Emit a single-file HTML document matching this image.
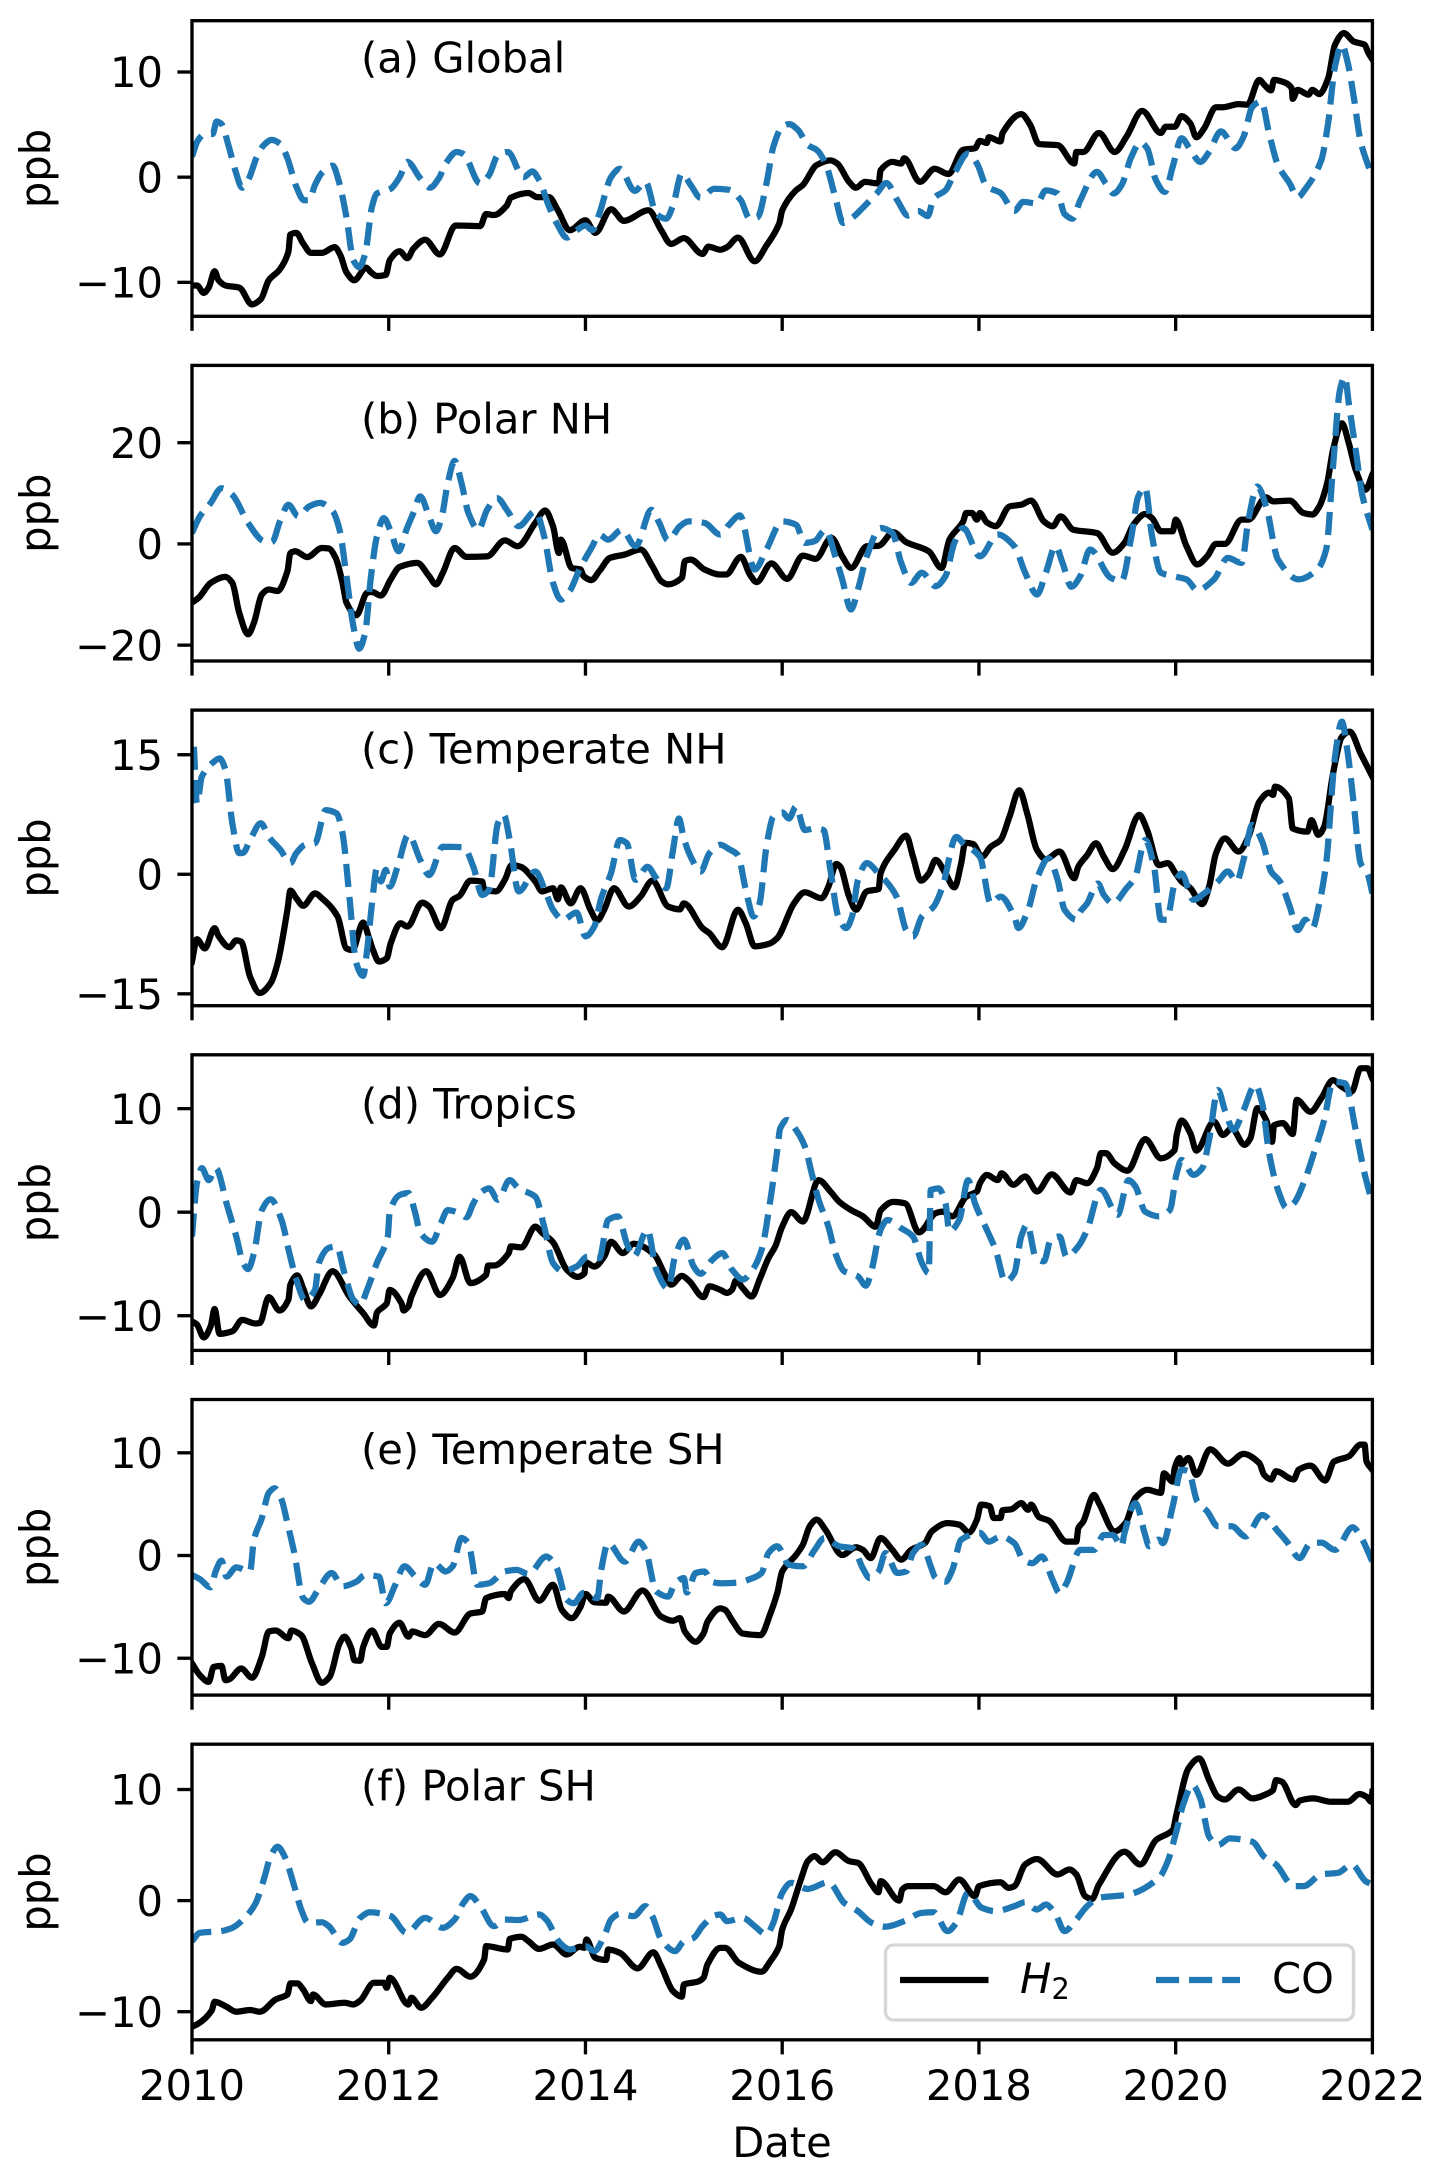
<!DOCTYPE html>
<html lang="en">
<head>
<meta charset="utf-8">
<title>H2 and CO anomalies by region</title>
<style>
html,body{margin:0;padding:0;background:#fff;}
svg{display:block;}
text{font-family:"DejaVu Sans","Liberation Sans",sans-serif;font-size:41.67px;fill:#000;}
</style>
</head>
<body>
<svg id="chart" xmlns="http://www.w3.org/2000/svg" width="1440" height="2177" viewBox="0 0 1440 2177">
<rect x="0" y="0" width="1440" height="2177" fill="#fff"/>
<g id="panels"></g>
<g>
<rect x="885.5" y="1945" width="468" height="75" rx="8" ry="8" fill="#fff" fill-opacity="0.8" stroke="#cccccc" stroke-opacity="0.8" stroke-width="3.33"/>
<line x1="900" y1="1980" x2="988.5" y2="1980" stroke="#000" stroke-width="6.25"/>
<text x="1020" y="1993"><tspan font-style="italic">H</tspan><tspan dy="6" font-size="29px">2</tspan></text>
<line x1="1156" y1="1980" x2="1240" y2="1980" stroke="#1f77b4" stroke-width="6.25" stroke-dasharray="23.1 10"/>
<text x="1272" y="1993">CO</text>
</g>
<text x="782" y="2157" text-anchor="middle">Date</text>
</svg>
<script>
const xTicks=[2010,2012,2014,2016,2018,2020,2022];
const xLimits=[2010,2022];
const panelTitles=["(a) Global","(b) Polar NH","(c) Temperate NH","(d) Tropics","(e) Temperate SH","(f) Polar SH"];
const yTicks=[[-10,0,10],[-20,0,20],[-15,0,15],[-10,0,10],[-10,0,10],[-10,0,10]];
const yLimits=[[-13.23,14.88],[-23.13,35.27],[-16.49,20.6],[-13.35,15.2],[-13.59,15.19],[-12.53,14.08]];

const h2GlobalYears=[2010,2010.05,2010.12,2010.17,2010.23,2010.27,2010.34,2010.48,2010.61,2010.70,2010.78,2010.89,2010.98,2011.00,2011.06,2011.13,2011.21,2011.32,2011.45,2011.51,2011.57,2011.65,2011.77,2011.82,2011.88,2011.97,2012.01,2012.11,2012.19,2012.25,2012.37,2012.52,2012.68,2012.93,2012.99,2013.07,2013.20,2013.24,2013.42,2013.51,2013.63,2013.72,2013.84,2014.00,2014.10,2014.26,2014.39,2014.64,2014.77,2014.87,2015.00,2015.19,2015.25,2015.37,2015.44,2015.55,2015.72,2015.84,2015.97,2016.00,2016.14,2016.21,2016.35,2016.49,2016.56,2016.68,2016.75,2016.84,2016.98,2017.00,2017.12,2017.21,2017.24,2017.40,2017.55,2017.69,2017.84,2017.96,2018.01,2018.08,2018.10,2018.22,2018.24,2018.43,2018.52,2018.61,2018.80,2018.97,2018.99,2019.06,2019.22,2019.38,2019.50,2019.66,2019.85,2019.90,2019.99,2020.06,2020.15,2020.21,2020.29,2020.41,2020.48,2020.64,2020.73,2020.85,2020.90,2020.97,2021.00,2021.11,2021.18,2021.19,2021.24,2021.35,2021.39,2021.46,2021.55,2021.62,2021.71,2021.81,2021.92,2021.96,2022.00];
const h2GlobalPpb=[-10.3,-10.3,-11,-10.5,-8.95,-9.8,-10.3,-10.5,-12.1,-11.6,-9.8,-8.8,-7.1,-5.45,-5.3,-6.3,-7.2,-7.2,-6.65,-7.45,-9.05,-9.8,-8.6,-9.05,-9.4,-9.3,-7.9,-7.05,-7.7,-6.8,-5.95,-7.35,-4.6,-4.65,-3.5,-3.6,-2.7,-1.95,-1.5,-1.9,-1.9,-3.15,-5.05,-4.1,-5.3,-3.05,-4.15,-3.15,-5.05,-6.35,-5.8,-7.3,-6.6,-6.9,-6.65,-5.75,-8,-6.5,-4.4,-3.15,-1.25,-0.75,1.15,1.6,1.3,-0.45,-1,-0.45,-0.6,0.65,1.45,1.3,1.8,-0.45,0.8,0.3,2.6,2.75,3.45,3.25,3.8,3.4,4.2,6,5,3.15,3.05,1.3,2.4,2.4,4.2,2.4,3.85,6.3,4.2,4.8,4.8,5.8,5.1,3.8,4.65,6.65,6.65,6.95,6.9,9.25,8.8,8.25,9.25,9,8.45,7.45,8.3,7.85,8.3,7.9,9.4,12.6,13.7,12.9,12.6,11.8,11.2];
const coGlobalYears=[2010,2010.06,2010.13,2010.21,2010.25,2010.30,2010.37,2010.44,2010.51,2010.57,2010.66,2010.73,2010.81,2010.90,2010.97,2011.06,2011.14,2011.19,2011.25,2011.32,2011.43,2011.49,2011.57,2011.64,2011.70,2011.76,2011.83,2011.88,2012.02,2012.11,2012.19,2012.32,2012.42,2012.51,2012.58,2012.69,2012.76,2012.93,2013.02,2013.11,2013.21,2013.37,2013.46,2013.53,2013.63,2013.72,2013.81,2013.91,2014.00,2014.07,2014.14,2014.26,2014.35,2014.50,2014.61,2014.72,2014.82,2014.89,2014.98,2015.07,2015.17,2015.31,2015.46,2015.58,2015.67,2015.75,2015.84,2015.91,2016.00,2016.07,2016.16,2016.26,2016.35,2016.44,2016.54,2016.62,2016.72,2016.82,2016.96,2017.06,2017.17,2017.28,2017.38,2017.48,2017.54,2017.66,2017.75,2017.89,2017.98,2018.08,2018.22,2018.36,2018.45,2018.59,2018.68,2018.80,2018.87,2018.95,2019.03,2019.20,2019.29,2019.37,2019.45,2019.55,2019.64,2019.71,2019.80,2019.89,2019.97,2020.06,2020.15,2020.25,2020.34,2020.46,2020.61,2020.69,2020.78,2020.87,2020.95,2021.04,2021.16,2021.24,2021.32,2021.48,2021.55,2021.62,2021.69,2021.75,2021.81,2021.88,2021.95,2022.00];
const coGlobalPpb=[1.95,3.5,4.1,4.1,5.3,5.05,3.05,0.65,-1,-0.3,1.95,3.05,3.55,3.15,1.8,-0.9,-2.2,-2.2,-0.75,0.4,1.1,-0.3,-3.8,-7.9,-8.55,-7.3,-2.8,-1.55,-1.1,0,1.45,-0.1,-1,-0.1,1.3,2.4,2.2,-0.6,0.2,2.1,2.4,0,0.55,-0.3,-2.8,-4.6,-5.75,-5.05,-4.6,-5.05,-3.5,0,0.8,-1.3,-0.45,-3.5,-3.95,-2.7,0.35,-0.75,-1.95,-1.1,-1.2,-2.2,-3.95,-3.8,-0.6,2.9,4.8,5.05,4.5,3.05,2.6,1.3,-1.9,-4.35,-3.8,-2.9,-1.55,-0.55,-2.2,-3.65,-3.2,-3.7,-2,-1.25,0.35,2.25,1.3,-0.9,-1.5,-3.2,-2.35,-2.5,-1.25,-1.55,-3.5,-3.95,-2.2,0.5,-0.6,-1.55,-0.75,1.95,3.3,2.75,-0.3,-1.4,1,3.7,2.6,1.45,2.4,4.35,2.75,3.85,6.7,7.2,4.15,1.15,-0.6,-1.9,-1.1,1.6,5.15,10.55,12.6,10.85,7.65,3.4,1.3,0];

const h2PolarNhYears=[2010,2010.07,2010.19,2010.34,2010.41,2010.48,2010.57,2010.63,2010.71,2010.78,2010.87,2010.97,2011.00,2011.05,2011.17,2011.32,2011.39,2011.46,2011.53,2011.57,2011.67,2011.78,2011.83,2011.92,2012.02,2012.11,2012.29,2012.41,2012.48,2012.55,2012.67,2012.79,2013.00,2013.18,2013.31,2013.49,2013.59,2013.67,2013.73,2013.75,2013.86,2013.95,2013.98,2014.06,2014.14,2014.25,2014.40,2014.56,2014.68,2014.77,2014.84,2014.98,2015.01,2015.07,2015.21,2015.37,2015.43,2015.58,2015.67,2015.74,2015.89,2016.05,2016.21,2016.34,2016.50,2016.61,2016.70,2016.86,2016.98,2017.13,2017.26,2017.49,2017.62,2017.70,2017.84,2017.87,2017.93,2017.98,2018.01,2018.08,2018.17,2018.31,2018.43,2018.53,2018.66,2018.75,2018.83,2018.96,2019.20,2019.36,2019.48,2019.57,2019.69,2019.76,2019.85,2019.97,2020.00,2020.11,2020.22,2020.32,2020.41,2020.50,2020.67,2020.74,2020.92,2020.99,2021.16,2021.30,2021.39,2021.46,2021.54,2021.60,2021.69,2021.76,2021.83,2021.93,2022.00];
const h2PolarNhPpb=[-11.6,-10.6,-7.7,-6.5,-7.7,-13.6,-17.85,-15.55,-10,-9,-9.3,-5.4,-1.8,-1.45,-2.6,-0.8,-0.9,-2.75,-7.7,-11.6,-14.1,-9.65,-9.5,-10.2,-7,-4.55,-3.75,-6.35,-8,-5.7,-0.8,-2.55,-2.45,0.7,-0.45,4.15,6.6,3.5,-1.8,0.85,-4.75,-5.05,-6.35,-7.15,-5.4,-2.75,-2.1,-1.1,-4.4,-7.35,-8,-6.7,-3.4,-3.1,-5.05,-6.05,-6.05,-2.55,-6,-7.55,-3.85,-6.9,-2.3,-2.95,1.2,-2.45,-4.75,-0.45,-0.35,2.3,0.35,-1.45,-4.75,0.85,4.45,6.1,6.1,4.8,6.1,4.25,3.5,7.4,7.75,8.55,4.45,3.5,5.45,2.8,2.15,-1.75,0.2,3.8,5.9,5.1,2.5,2.5,4.8,-0.45,-4.05,-2.45,0,0,4.8,4.8,9.2,8.4,8.55,6.1,5.8,7.4,12,18.6,23.85,19.9,14.65,10.7,13.7];
const coPolarNhYears=[2010,2010.08,2010.19,2010.30,2010.41,2010.57,2010.73,2010.81,2010.90,2010.98,2011.08,2011.19,2011.30,2011.43,2011.50,2011.57,2011.64,2011.70,2011.76,2011.82,2011.88,2011.95,2012.02,2012.10,2012.18,2012.25,2012.32,2012.41,2012.48,2012.54,2012.60,2012.67,2012.74,2012.81,2012.91,2013.00,2013.10,2013.21,2013.32,2013.49,2013.58,2013.67,2013.75,2013.84,2013.94,2014.07,2014.14,2014.23,2014.37,2014.51,2014.67,2014.75,2014.84,2014.96,2015.05,2015.21,2015.37,2015.46,2015.57,2015.72,2015.84,2016.00,2016.14,2016.23,2016.33,2016.44,2016.54,2016.61,2016.70,2016.77,2016.86,2017.00,2017.12,2017.21,2017.31,2017.42,2017.56,2017.66,2017.75,2017.84,2018.01,2018.19,2018.36,2018.47,2018.59,2018.68,2018.78,2018.85,2018.94,2019.03,2019.13,2019.34,2019.45,2019.55,2019.62,2019.69,2019.76,2019.85,2019.97,2020.11,2020.22,2020.39,2020.53,2020.67,2020.74,2020.83,2020.92,2021.04,2021.25,2021.44,2021.53,2021.60,2021.67,2021.72,2021.76,2021.83,2021.90,2022.00];
const coPolarNhPpb=[2.15,5.45,8.1,11,9.7,4.15,0.55,0.35,4.8,7.75,5.45,7.4,8.1,6.45,2.8,-6.35,-16.2,-20.7,-17.55,-6.35,1.5,5.1,2.5,-1.45,2.8,6.1,9.4,5.45,2.5,5.45,12,16.4,12,6.1,2.8,6.75,9.05,6.45,3.5,6.45,1.5,-7.7,-11,-9.3,-5,-0.45,1.85,0.85,2.8,-0.45,6.75,4.15,0.7,3.5,4.45,4.15,1.85,3.8,5.65,-5.05,-1.1,4.45,3.8,0.2,0.55,2.8,-2.45,-7,-12.95,-9,-2.45,3.15,2.15,-3.75,-7.7,-5.7,-8.35,-6.35,0.2,3.15,-2.45,1.85,-0.45,-5.7,-10,-5.7,-0.45,-3.75,-8.45,-6.35,-1.1,-6.7,-7.35,1.5,9.4,11.15,1.5,-5.7,-6.35,-7,-9.15,-7,-2.75,-3.75,4.8,11.35,7.4,-3.1,-7,-5.05,-1.1,15.3,30.4,33,27.8,18.6,9.4,2.8];

const h2TempNhYears=[2010,2010.05,2010.13,2010.23,2010.27,2010.38,2010.45,2010.50,2010.59,2010.69,2010.80,2010.87,2010.97,2011.00,2011.06,2011.13,2011.25,2011.32,2011.48,2011.57,2011.63,2011.74,2011.80,2011.84,2011.90,2011.98,2012.02,2012.12,2012.19,2012.34,2012.41,2012.53,2012.65,2012.72,2012.83,2012.95,2012.97,2013.09,2013.18,2013.25,2013.34,2013.49,2013.56,2013.67,2013.72,2013.75,2013.85,2013.95,2014.05,2014.12,2014.19,2014.29,2014.44,2014.56,2014.68,2014.84,2014.96,2015.00,2015.19,2015.26,2015.39,2015.55,2015.63,2015.72,2015.86,2015.95,2016.12,2016.23,2016.40,2016.47,2016.55,2016.59,2016.68,2016.75,2016.86,2016.98,2017.00,2017.14,2017.26,2017.33,2017.41,2017.49,2017.56,2017.66,2017.75,2017.82,2017.86,2017.94,2018.03,2018.12,2018.22,2018.31,2018.41,2018.49,2018.59,2018.68,2018.82,2018.97,2019.01,2019.10,2019.19,2019.27,2019.36,2019.48,2019.63,2019.71,2019.83,2019.92,2020.00,2020.06,2020.15,2020.27,2020.34,2020.41,2020.50,2020.64,2020.74,2020.85,2020.95,2020.99,2021.01,2021.15,2021.19,2021.34,2021.38,2021.45,2021.51,2021.60,2021.69,2021.77,2021.88,2022.00];
const h2TempNhPpb=[-10.95,-8.15,-9.3,-6.75,-7.75,-9.15,-8.3,-8.45,-12.85,-14.9,-13.65,-11.15,-4.45,-2.05,-3,-3.95,-2.4,-3,-5.3,-9.3,-9.5,-6.05,-8,-9.5,-10.95,-10.55,-8.65,-6.15,-6.55,-3.55,-4.05,-6.75,-3.2,-2.7,-0.8,-0.9,-1.95,-2.15,-0.7,1.15,0.95,-0.9,-2.15,-1.75,-3.15,-1.65,-3.65,-1.75,-4.45,-5.8,-4.45,-1.75,-4.05,-2.8,-0.8,-4.05,-4.4,-3.65,-6.75,-7.4,-9.15,-4.45,-6.15,-9.05,-8.75,-8,-3.65,-2.25,-3,-1.55,1.3,0.95,-2.8,-4.45,-2.15,-1.85,0.1,3.05,4.85,2.2,-0.8,0.1,1.8,0.1,-1.65,1.4,3.95,3.8,2.2,3.45,4.3,7.2,10.55,7.65,3.05,1.9,2.85,-0.5,0.95,2.4,3.9,2.2,0.65,3.05,7.45,5.55,1.15,1.4,0.1,-0.9,-1.75,-3.75,-1.55,2.65,4.5,2.85,4.7,9.1,10.25,9.95,11,9.55,5.75,5.35,6.8,4.95,6,12.65,17.25,17.9,15.15,12.25];
const coTempNhYears=[2010.02,2010.05,2010.10,2010.22,2010.28,2010.34,2010.41,2010.48,2010.52,2010.59,2010.70,2010.78,2010.90,2011.00,2011.06,2011.15,2011.25,2011.36,2011.47,2011.53,2011.60,2011.67,2011.74,2011.78,2011.83,2011.88,2011.92,2011.97,2012.01,2012.09,2012.20,2012.32,2012.41,2012.55,2012.76,2012.86,2012.95,2013.02,2013.11,2013.17,2013.23,2013.32,2013.49,2013.60,2013.67,2013.77,2013.91,2014.00,2014.09,2014.16,2014.26,2014.35,2014.42,2014.51,2014.63,2014.72,2014.82,2014.89,2014.95,2015.00,2015.07,2015.17,2015.26,2015.37,2015.46,2015.55,2015.63,2015.71,2015.77,2015.84,2015.91,2016.00,2016.07,2016.14,2016.23,2016.33,2016.42,2016.49,2016.57,2016.65,2016.71,2016.77,2016.86,2016.98,2017.10,2017.17,2017.26,2017.33,2017.42,2017.54,2017.63,2017.77,2017.84,2018.01,2018.12,2018.22,2018.36,2018.40,2018.50,2018.59,2018.71,2018.80,2018.87,2018.99,2019.03,2019.10,2019.21,2019.27,2019.36,2019.50,2019.59,2019.69,2019.78,2019.85,2019.91,2019.99,2020.06,2020.18,2020.29,2020.43,2020.53,2020.62,2020.69,2020.78,2020.88,2020.97,2021.06,2021.16,2021.24,2021.32,2021.39,2021.46,2021.53,2021.62,2021.69,2021.74,2021.81,2021.88,2021.95,2022.00];
const coTempNhPpb=[16,8.9,12.25,14.1,14.55,13.1,6.4,2.65,2.7,4.3,6.4,4.7,3.05,1.4,2.65,3.7,3.9,8.05,7.65,5.15,-2.8,-11.15,-12.75,-9.5,-3.65,0.75,-0.9,0.55,-1.55,0.95,4.95,1.8,-0.1,3.45,3.4,0.95,-2.6,-1.95,6.4,7.45,4.3,-2.15,0.35,-2.4,-4.45,-5.7,-4.8,-7.8,-6.55,-3,0.15,4.3,3.9,-0.7,0.95,-0.5,-1.75,3.05,7,4.5,2.2,0.35,2.65,3.7,3.15,2.4,-1.95,-5.3,-3.65,3.45,7.25,7.75,7,8.5,5.55,5.75,5.55,0.55,-5.3,-6.75,-5.3,-0.7,1.4,0.1,-1.55,-3,-7,-7.8,-5.3,-4.05,-1.55,4.7,3.9,2.2,-3.65,-2.8,-5.3,-6.75,-4.45,-0.5,2,-0.7,-4.45,-5.7,-4.7,-3.65,-1.15,-2.6,-3.65,-1.75,-0.3,4.3,0.95,-5.7,-5.7,-1.15,0.1,-3.2,-2.4,-0.9,0.35,-0.9,1.8,6.2,4.1,0.35,-0.9,-4.05,-7,-5.7,-6.75,-3.65,1.4,14.75,19.15,16,8.9,1.4,0.1,-2.4];

const h2TropicsYears=[2010,2010.05,2010.12,2010.19,2010.23,2010.28,2010.41,2010.51,2010.64,2010.69,2010.78,2010.89,2010.98,2011.00,2011.07,2011.13,2011.21,2011.29,2011.43,2011.60,2011.74,2011.85,2011.88,2011.98,2012.01,2012.13,2012.15,2012.20,2012.23,2012.38,2012.52,2012.65,2012.72,2012.83,2012.99,2013.01,2013.07,2013.22,2013.24,2013.35,2013.49,2013.56,2013.67,2013.81,2013.92,2013.99,2014.00,2014.09,2014.19,2014.26,2014.38,2014.49,2014.70,2014.80,2014.87,2014.98,2015.05,2015.20,2015.26,2015.37,2015.44,2015.49,2015.53,2015.60,2015.69,2015.77,2015.86,2015.93,2016.00,2016.09,2016.21,2016.37,2016.49,2016.58,2016.70,2016.82,2016.95,2017.00,2017.13,2017.25,2017.39,2017.56,2017.63,2017.73,2017.87,2017.98,2018.01,2018.08,2018.19,2018.23,2018.35,2018.47,2018.59,2018.74,2018.93,2018.99,2019.10,2019.20,2019.24,2019.29,2019.38,2019.51,2019.69,2019.85,2019.99,2020.01,2020.06,2020.15,2020.21,2020.39,2020.48,2020.57,2020.70,2020.76,2020.83,2020.92,2020.98,2021.00,2021.09,2021.19,2021.23,2021.37,2021.48,2021.60,2021.69,2021.79,2021.88,2021.95,2022.00];
const h2TropicsPpb=[-10.55,-10.85,-12.1,-11,-9.35,-11.75,-11.5,-10.4,-10.75,-10.7,-8.2,-9.5,-8.45,-7,-6.1,-7.35,-9.1,-8,-5.7,-8.15,-9.75,-10.95,-9.7,-8.8,-7.5,-8.8,-9.5,-9.1,-8.15,-5.7,-8,-6.35,-4.3,-6.85,-6.05,-5.15,-5.15,-3.95,-3.3,-3.4,-1.4,-2,-2.9,-5.55,-6.25,-5.9,-4.85,-5.25,-4.3,-2.85,-3.95,-3.05,-4.1,-5.9,-7,-6.15,-6.6,-8.2,-7.15,-7.5,-7.8,-7.5,-6.6,-7.35,-8.15,-6.5,-4.45,-3.3,-1.4,0,-0.9,3.1,2,1,0.2,-0.4,-1.4,0.15,1,0.85,-1.95,-0.1,0.05,-0.4,1.5,2,2.8,3.6,3.1,3.75,2.65,3.45,2,3.65,1.9,3.1,2.8,4.25,5.7,5.7,4.7,4,7.05,5.2,6,7.45,8.85,7.6,5.95,8.75,7.45,8.1,6.5,7.15,10.05,8.9,6.8,8.4,8.6,7.55,10.85,9.7,11,12.75,12.1,11.65,13.9,13.9,12.9];
const coTropicsYears=[2010,2010.05,2010.10,2010.17,2010.24,2010.36,2010.45,2010.52,2010.57,2010.63,2010.71,2010.80,2010.91,2010.99,2011.06,2011.15,2011.25,2011.29,2011.39,2011.47,2011.55,2011.64,2011.71,2011.78,2011.88,2011.99,2012.01,2012.11,2012.20,2012.27,2012.32,2012.44,2012.53,2012.60,2012.72,2012.79,2012.86,2012.93,2013.02,2013.11,2013.23,2013.32,2013.49,2013.58,2013.67,2013.77,2013.91,2014.02,2014.14,2014.23,2014.33,2014.42,2014.49,2014.63,2014.72,2014.84,2014.91,2015.00,2015.10,2015.17,2015.29,2015.39,2015.49,2015.60,2015.70,2015.79,2015.88,2015.95,2015.98,2016.05,2016.14,2016.23,2016.30,2016.37,2016.47,2016.54,2016.63,2016.77,2016.85,2016.91,2017.00,2017.07,2017.21,2017.33,2017.42,2017.49,2017.51,2017.59,2017.66,2017.70,2017.80,2017.89,2017.96,2018.08,2018.17,2018.27,2018.36,2018.43,2018.49,2018.58,2018.66,2018.73,2018.82,2018.89,2019.01,2019.10,2019.24,2019.41,2019.52,2019.59,2019.69,2019.83,2019.94,2020.01,2020.06,2020.18,2020.27,2020.34,2020.43,2020.50,2020.59,2020.69,2020.81,2020.88,2020.95,2021.04,2021.13,2021.20,2021.32,2021.41,2021.51,2021.60,2021.72,2021.83,2021.92,2022.00];
const coTropicsPpb=[-2.35,2.8,4.25,3.1,4.25,0.55,-2.35,-4.9,-5.5,-3.95,0.2,1.25,-0.75,-3.95,-6.5,-8.5,-7.5,-4.9,-3.45,-3.3,-5.9,-8.45,-8.95,-7.5,-4.9,-2.35,0.05,1.65,1.85,-0.1,-2,-2.85,-1.05,0.2,-0.1,-0.5,0.85,1.85,2.3,1.2,3.1,2.3,1.5,-1.4,-4.9,-5.7,-5.25,-4.3,-4.45,-0.75,-0.4,-3,-4.3,-1.7,-5.55,-7.35,-4.3,-2.65,-5.25,-5.95,-4.6,-3.95,-5.55,-6.5,-5.55,-3.65,1.2,6,8.1,8.9,7.95,6.35,3.75,1.2,-1.4,-3.95,-5.7,-6.2,-7.1,-5.55,-1.7,-0.75,-1.55,-2.35,-4.9,-5.9,2.15,2.3,0.85,-1.85,-0.75,3.1,0.85,-1.7,-3.65,-6.7,-5.9,-2.35,-1.2,-4.45,-4.75,-2.65,-2.35,-4.3,-3.3,-1.7,2.15,-0.25,3.1,2.5,0.05,-0.4,0.2,3.75,5.05,3.6,4.25,7,11.8,9.85,7.95,9.85,12.3,10.5,5.7,2.15,0.4,0.85,3.3,5.85,8.9,12.6,12.45,7.95,3.75,0.85];

const h2TempShYears=[2010,2010.08,2010.17,2010.22,2010.30,2010.34,2010.38,2010.50,2010.61,2010.71,2010.78,2010.85,2010.98,2011.01,2011.11,2011.22,2011.32,2011.40,2011.50,2011.55,2011.62,2011.65,2011.71,2011.74,2011.83,2011.93,2011.98,2012.01,2012.11,2012.20,2012.24,2012.37,2012.51,2012.67,2012.83,2012.95,2012.99,2013.18,2013.22,2013.24,2013.38,2013.53,2013.67,2013.76,2013.86,2013.95,2014.00,2014.09,2014.21,2014.23,2014.39,2014.58,2014.77,2014.89,2014.96,2015.01,2015.12,2015.20,2015.24,2015.37,2015.42,2015.49,2015.60,2015.78,2015.88,2015.95,2016.00,2016.14,2016.21,2016.28,2016.35,2016.44,2016.61,2016.75,2016.82,2016.90,2017.00,2017.12,2017.21,2017.31,2017.45,2017.52,2017.68,2017.80,2017.90,2017.98,2018.02,2018.11,2018.15,2018.22,2018.24,2018.33,2018.43,2018.50,2018.53,2018.61,2018.71,2018.89,2018.99,2019.01,2019.06,2019.17,2019.22,2019.38,2019.49,2019.59,2019.71,2019.85,2019.88,2019.97,2019.99,2020.04,2020.06,2020.13,2020.21,2020.35,2020.53,2020.69,2020.85,2020.90,2020.97,2021.02,2021.20,2021.25,2021.37,2021.52,2021.61,2021.76,2021.88,2021.92,2021.94,2022.00];
const h2TempShPpb=[-10.5,-11.65,-12.3,-10.85,-10.75,-12.15,-12.05,-11,-11.9,-9.85,-7.4,-7.3,-8.05,-7.3,-7.75,-10.5,-12.4,-11.8,-8.55,-7.9,-9.05,-10.2,-10.25,-8.9,-7.3,-8.9,-8.9,-7.6,-6.55,-7.9,-7.4,-7.75,-6.65,-7.5,-5.65,-5.45,-4.15,-3.75,-4.15,-3.5,-2.3,-4.4,-2.85,-5.3,-6.1,-5,-3.75,-4.55,-4.6,-4,-5.45,-3.4,-5.95,-6.35,-6.1,-7.4,-8.4,-7.6,-6.45,-5.15,-5.3,-6.3,-7.6,-7.75,-5.65,-3.65,-1.55,0.05,1.05,2.85,3.5,2.5,0.05,0.8,0.55,-0.25,1.7,0.55,-0.4,0.55,1.2,2.35,3.15,3,2.25,3.5,4.95,4.8,3.65,3.65,4.4,4.5,5.1,4.45,4.95,3.75,3.4,1.35,1.35,2.65,3.3,5.9,5.1,2.35,3.15,5.6,6.4,6.1,8,7.2,8.5,9.5,8.85,9.5,7.85,10.35,8.95,9.9,9,7.85,7.4,8.2,7.4,8.35,8.75,7.3,9.15,9.65,10.8,10.8,9.15,8.35];
const coTempShYears=[2010,2010.08,2010.19,2010.24,2010.30,2010.35,2010.45,2010.59,2010.63,2010.71,2010.78,2010.84,2010.91,2010.97,2011.04,2011.13,2011.19,2011.29,2011.42,2011.53,2011.67,2011.76,2011.90,2011.97,2012.06,2012.16,2012.27,2012.37,2012.46,2012.58,2012.65,2012.74,2012.81,2012.90,2013.02,2013.18,2013.30,2013.42,2013.60,2013.70,2013.81,2013.88,2013.98,2014.12,2014.16,2014.23,2014.40,2014.54,2014.61,2014.72,2014.84,2014.91,2015.00,2015.03,2015.12,2015.21,2015.28,2015.37,2015.53,2015.70,2015.79,2015.86,2015.95,2016.07,2016.21,2016.33,2016.43,2016.58,2016.72,2016.82,2016.89,2016.98,2017.05,2017.17,2017.26,2017.33,2017.42,2017.51,2017.56,2017.66,2017.73,2017.82,2018.01,2018.10,2018.22,2018.36,2018.45,2018.54,2018.64,2018.75,2018.82,2018.89,2019.03,2019.17,2019.27,2019.36,2019.45,2019.48,2019.59,2019.69,2019.73,2019.83,2019.87,2019.97,2020.06,2020.13,2020.22,2020.32,2020.43,2020.57,2020.71,2020.88,2021.04,2021.13,2021.26,2021.37,2021.48,2021.62,2021.80,2021.88,2022.00];
const coTempShPpb=[-1.9,-2.3,-3.1,-1.55,-0.5,-2.05,-1.15,-1.55,1.55,3.65,6.1,6.55,5.45,3.15,0.25,-4.15,-4.5,-3.2,-1.7,-3,-2.55,-1.9,-2.05,-4.65,-3,-1.05,-2.05,-2.85,-0.75,-1.55,-1.05,1.7,1.2,-2.85,-2.7,-1.55,-1.4,-1.8,-0.1,-1.05,-4.3,-4.65,-3.65,-4.15,-1.4,1.2,-0.6,1.35,0.55,-3.5,-4,-2.7,-2.2,-3.6,-1.7,-1.55,-2.55,-2.7,-2.65,-2.2,-1.7,0.25,0.9,-0.9,-1.05,0.55,1.7,0.9,0.7,-1.25,-2.2,-1.55,0.25,-1.7,-1.55,0.25,1.05,-1.05,-2.2,-2.55,-1.4,1.55,2.2,1.35,1.85,1.2,-0.4,-0.75,-0.1,-2.4,-3.65,-2.7,0.55,0.55,2,2,0.9,2.2,5.1,2,0.9,1.55,1.2,4.8,8.35,8.2,5.25,4.3,2.85,2.85,1.85,3.95,2.35,1.35,-0.25,1.2,1.25,0.55,2.75,1.85,-0.6];

const h2PolarShYears=[2010,2010.06,2010.20,2010.23,2010.34,2010.45,2010.59,2010.69,2010.85,2010.97,2011.00,2011.07,2011.13,2011.21,2011.23,2011.36,2011.55,2011.64,2011.71,2011.85,2011.95,2011.98,2012.01,2012.20,2012.23,2012.33,2012.44,2012.60,2012.69,2012.83,2012.97,2012.99,2013.21,2013.23,2013.35,2013.42,2013.53,2013.67,2013.81,2013.94,2013.99,2014.01,2014.10,2014.21,2014.23,2014.35,2014.53,2014.69,2014.77,2014.89,2014.98,2015.00,2015.14,2015.20,2015.24,2015.37,2015.42,2015.56,2015.79,2015.88,2015.97,2016.00,2016.09,2016.19,2016.26,2016.33,2016.41,2016.54,2016.68,2016.77,2016.91,2016.98,2017.00,2017.19,2017.22,2017.28,2017.54,2017.66,2017.80,2017.96,2018.00,2018.22,2018.30,2018.36,2018.47,2018.59,2018.80,2018.92,2018.99,2019.08,2019.15,2019.22,2019.48,2019.64,2019.80,2019.97,2020.01,2020.13,2020.24,2020.34,2020.43,2020.50,2020.64,2020.78,2020.95,2020.99,2021.02,2021.08,2021.22,2021.26,2021.40,2021.58,2021.75,2021.87,2021.94,2021.99,2022.00];
const h2PolarShPpb=[-11.35,-11.1,-9.9,-9.1,-9.5,-10,-9.85,-10,-8.9,-8.45,-7.45,-7.45,-8,-9.05,-8.45,-9.35,-9.2,-9.35,-9,-7.4,-7.4,-7.85,-6.95,-9.35,-8.75,-9.65,-8.75,-6.95,-6.15,-6.85,-5.3,-4.1,-4.4,-3.45,-3.25,-3.65,-4.35,-3.95,-4.85,-4.15,-4.25,-3.5,-5.15,-5.35,-4.4,-4.7,-6.1,-4.65,-5.9,-8.15,-8.65,-7.55,-7.3,-6.95,-5.75,-4.25,-4.25,-5.6,-6.4,-5.45,-4.1,-2.6,-0.8,1.9,3.55,4,3.45,4.35,3.55,3.4,1.45,0.75,1.75,0,1,1.3,1.3,0.75,1.9,0.4,1.3,1.65,1.15,1.3,3.25,3.75,2.35,2.8,2.35,0.4,0.15,1.45,4.4,3.25,5.45,6.35,7.85,11.9,12.8,10.85,9.35,9.1,10,9.2,9.7,9.95,10.85,10.7,8.6,9,9.2,8.9,8.9,9.6,9.35,8.9,9.8];
const coPolarShYears=[2010,2010.08,2010.29,2010.41,2010.52,2010.64,2010.73,2010.80,2010.87,2010.94,2011.04,2011.11,2011.18,2011.32,2011.39,2011.53,2011.60,2011.71,2011.81,2012.02,2012.18,2012.37,2012.55,2012.67,2012.76,2012.83,2012.93,2013.07,2013.18,2013.32,2013.53,2013.60,2013.74,2013.84,2014.00,2014.09,2014.19,2014.26,2014.35,2014.49,2014.61,2014.68,2014.77,2014.91,2015.00,2015.10,2015.19,2015.31,2015.37,2015.44,2015.60,2015.72,2015.84,2015.91,2016.00,2016.09,2016.26,2016.47,2016.63,2016.77,2016.91,2017.05,2017.24,2017.42,2017.54,2017.68,2017.77,2017.89,2018.03,2018.17,2018.36,2018.47,2018.59,2018.68,2018.78,2018.87,2018.99,2019.10,2019.22,2019.52,2019.83,2019.92,2020.01,2020.08,2020.17,2020.25,2020.34,2020.43,2020.55,2020.78,2020.90,2021.02,2021.20,2021.30,2021.48,2021.65,2021.79,2021.93,2022.00];
const coPolarShPpb=[-3.65,-2.9,-2.75,-2.45,-1.7,-0.35,1.9,4,4.85,4,1.3,-0.8,-2,-1.95,-2.3,-3.8,-3.5,-1.55,-1.05,-1.4,-2.9,-1.55,-2.45,-1.7,-0.2,0.4,-0.5,-2.3,-1.7,-1.75,-1.25,-1.7,-3.8,-4.4,-4.1,-4.55,-3.2,-1.7,-1.2,-1.4,-0.5,-1.4,-3.5,-4.55,-3.65,-3.35,-2.3,-1.35,-1.25,-1.85,-1.55,-2.3,-3.05,-2,0.7,1.6,1.05,1.65,-0.2,-0.95,-2,-2.35,-1.85,-1.1,-1.05,-2.75,-2,0.7,-0.65,-0.95,-0.5,-0.15,-0.8,-0.35,-1.25,-2.75,-1.7,-0.5,0.25,0.55,2.05,3.55,6.35,8.75,10.4,9.2,5.75,5,5.6,5.3,3.95,3.25,1.3,1.3,2.35,2.5,3.25,1.75,1.45];

const seriesYears=[[h2GlobalYears,coGlobalYears],[h2PolarNhYears,coPolarNhYears],[h2TempNhYears,coTempNhYears],[h2TropicsYears,coTropicsYears],[h2TempShYears,coTempShYears],[h2PolarShYears,coPolarShYears]];
const seriesPpb=[[h2GlobalPpb,coGlobalPpb],[h2PolarNhPpb,coPolarNhPpb],[h2TempNhPpb,coTempNhPpb],[h2TropicsPpb,coTropicsPpb],[h2TempShPpb,coTempShPpb],[h2PolarShPpb,coPolarShPpb]];

const NS='http://www.w3.org/2000/svg';
const plotLeft=192,plotRight=1372.4,panelTop=20.7,panelPitch=344.7,panelHeight=295.6;
const titleOffsets=[52,68,53.2,63.5,64.5,56.5];
const host=document.getElementById('panels');

function mk(tag,attrs,parent){
  const e=document.createElementNS(NS,tag);
  for(const k in attrs){e.setAttribute(k,attrs[k]);}
  parent.appendChild(e);
  return e;
}
function xScale(year){
  return plotLeft+(year-xLimits[0])/(xLimits[1]-xLimits[0])*(plotRight-plotLeft);
}
function makeYScale(lim,top){
  return function(v){return top+panelHeight-(v-lim[0])/(lim[1]-lim[0])*panelHeight;};
}
function curvePath(years,vals,ys){
  const n=Math.min(years.length,vals.length);
  const px=[],py=[];
  for(let i=0;i<n;i++){px.push(xScale(years[i]));py.push(ys(vals[i]));}
  const sec=[];
  for(let i=0;i<n-1;i++){const dx=px[i+1]-px[i];sec.push(dx>0?(py[i+1]-py[i])/dx:0);}
  const m=[];
  for(let i=0;i<n;i++){
    if(i===0){m.push(sec[0]);continue;}
    if(i===n-1){m.push(sec[n-2]);continue;}
    const a=sec[i-1],b=sec[i];
    m.push(a*b<=0?0:2*a*b/(a+b));
  }
  let d='M'+px[0].toFixed(2)+' '+py[0].toFixed(2);
  for(let i=0;i<n-1;i++){
    const h=(px[i+1]-px[i])/3;
    d+='C'+(px[i]+h).toFixed(2)+' '+(py[i]+m[i]*h).toFixed(2)+' '+(px[i+1]-h).toFixed(2)+' '+(py[i+1]-m[i+1]*h).toFixed(2)+' '+px[i+1].toFixed(2)+' '+py[i+1].toFixed(2);
  }
  return d;
}

panelTitles.forEach(function(title,idx){
  const top=panelTop+idx*panelPitch;
  const bottom=top+panelHeight;
  const ys=makeYScale(yLimits[idx],top);

  const g=mk('g',{},host);
  
  

  const defs=mk('defs',{},g);
  const clip=mk('clipPath',{id:'clip'+idx},defs);
  mk('rect',{x:plotLeft,y:top,width:plotRight-plotLeft,height:panelHeight},clip);

  const h2Line=mk('path',{d:curvePath(seriesYears[idx][0],seriesPpb[idx][0],ys),fill:'none',stroke:'#000','stroke-width':6.25,'stroke-linejoin':'round','stroke-linecap':'square','clip-path':'url(#clip'+idx+')'},g);
  
  

  const coLine=mk('path',{d:curvePath(seriesYears[idx][1],seriesPpb[idx][1],ys),fill:'none',stroke:'#1f77b4','stroke-width':6.25,'stroke-linejoin':'round','stroke-dasharray':'23.1 10','clip-path':'url(#clip'+idx+')'},g);
  
  

  const frame=mk('rect',{x:plotLeft,y:top,width:plotRight-plotLeft,height:panelHeight,fill:'none',stroke:'#000','stroke-width':3.33},g);
  
  

  yTicks[idx].forEach(function(v){
    const yy=ys(v);
    const tick=mk('line',{x1:plotLeft,x2:plotLeft-14.6,y1:yy,y2:yy,stroke:'#000','stroke-width':3.33},g);
    
    
    const lab=mk('text',{x:163,y:yy+15.2,'text-anchor':'end'},g);
    lab.textContent=(v<0?'\u2212':'')+Math.abs(v);
    
    
  });

  xTicks.forEach(function(year){
    const xx=xScale(year);
    const tick=mk('line',{x1:xx,x2:xx,y1:bottom,y2:bottom+14.6,stroke:'#000','stroke-width':3.33},g);
    
    
    if(idx===panelTitles.length-1){
      const lab=mk('text',{x:xx,y:2100,'text-anchor':'middle'},g);
      lab.textContent=String(year);
      
      
    }
  });

  const cy=top+panelHeight/2;
  const yl=mk('text',{x:50,y:cy,'text-anchor':'middle',transform:'rotate(-90 50 '+cy+')'},g);
  yl.textContent='ppb';
  
  

  const tt=mk('text',{x:361,y:top+titleOffsets[idx]},g);
  tt.textContent=title;
  
  
});
</script>
</body>
</html>
